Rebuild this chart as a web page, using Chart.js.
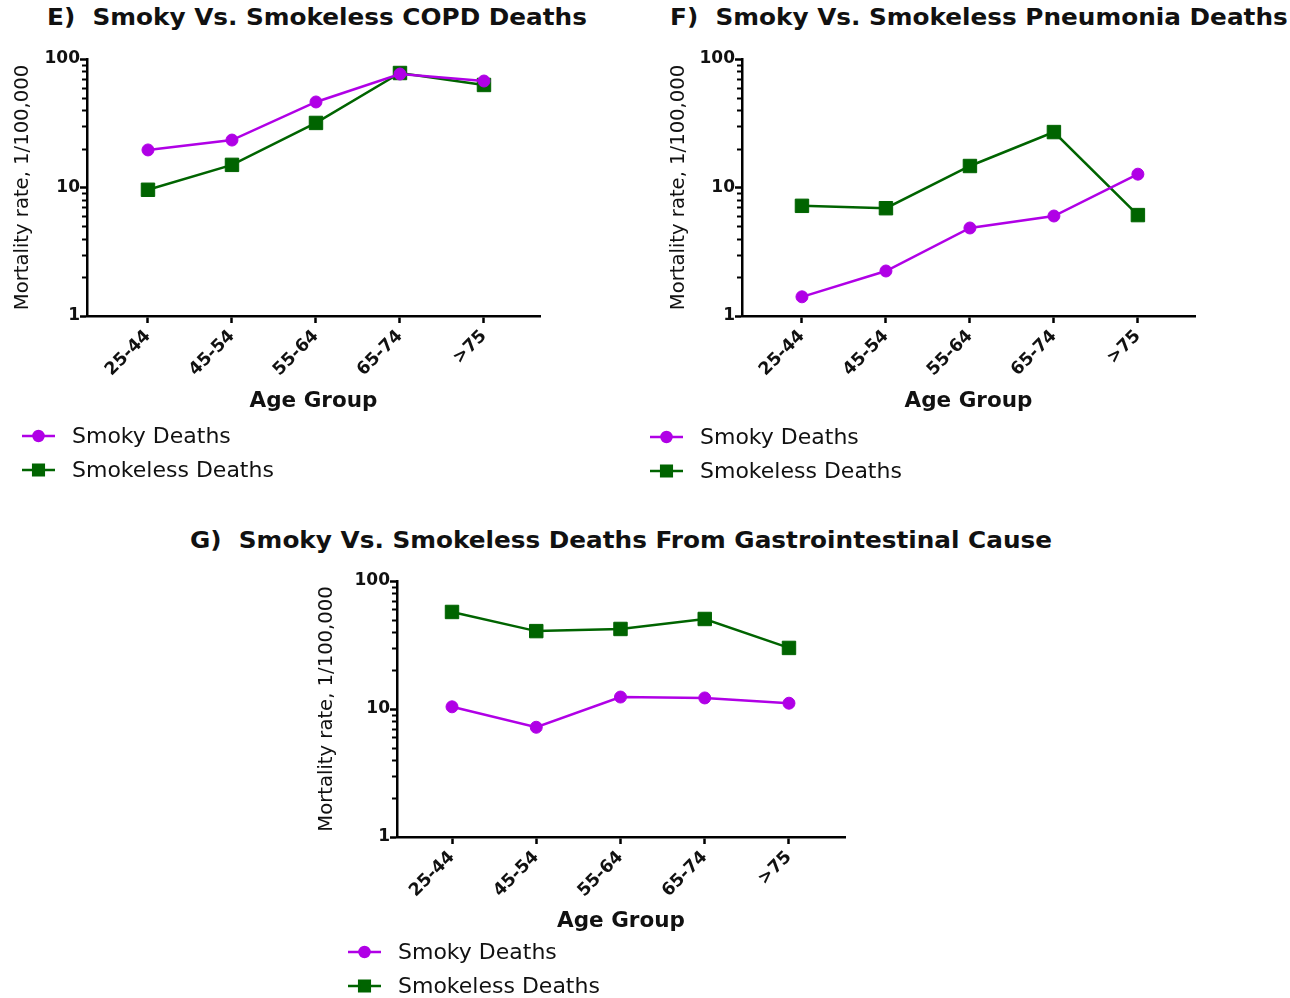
<!DOCTYPE html>
<html>
<head>
<meta charset="utf-8">
<script src="https://cdn.jsdelivr.net/npm/chart.js@4/dist/chart.umd.min.js"></script>
<style>
  body { margin: 0; background: #fff; width: 1290px; height: 998px; position: relative; overflow: hidden; }
  .panel { position: absolute; }
  .ttl { position: absolute; font: bold 23px "DejaVu Sans", sans-serif; color: #111; white-space: pre; line-height: 26px; transform: scaleX(1.075); transform-origin: left center; }
</style>
</head>
<body>
<div class="ttl" style="left:47px; top:4px;">E)  Smoky Vs. Smokeless COPD Deaths</div>
<div class="ttl" style="left:670px; top:4px;">F)  Smoky Vs. Smokeless Pneumonia Deaths</div>
<div class="ttl" style="left:190px; top:527px;">G)  Smoky Vs. Smokeless Deaths From Gastrointestinal Cause</div>

<div class="panel" style="left:0px; top:0px;"><canvas id="chartE"></canvas></div>
<div class="panel" style="left:650px; top:0px;"><canvas id="chartF"></canvas></div>
<div class="panel" style="left:300px; top:520px;"><canvas id="chartG"></canvas></div>

<script>
// age groups on the x axis
const ageGroups = ["25-44", "45-54", "55-64", "65-74", ">75"];
const seriesNames = ["Smoky Deaths", "Smokeless Deaths"];
const yTickValues = [1, 10, 100];
const yMinorTicks = [2, 3, 4, 5, 6, 7, 8, 9, 20, 30, 40, 50, 60, 70, 80, 90];

// mortality rate per 100,000
const copdSmoky = [19.6, 23.4, 46.3, 76.4, 67.4];
const copdSmokeless = [9.6, 15.0, 31.8, 77.8, 62.8];
const pneumoniaSmoky = [1.41, 2.24, 4.84, 6.0, 12.7];
const pneumoniaSmokeless = [7.2, 6.9, 14.7, 27.0, 6.1];
const giSmoky = [10.4, 7.2, 12.4, 12.2, 11.1];
const giSmokeless = [57.3, 40.6, 42.2, 50.5, 30.0];

const purple = "#B000E6";
const green = "#006400";
const FONT = "'DejaVu Sans', sans-serif";

// short minor ticks on the log axis
const minorTicks = {
    id: "minorTicks",
    afterDraw(chart) {
        const ctx = chart.ctx;
        const y = chart.scales.y;
        const left = chart.chartArea.left;
        ctx.save();
        ctx.strokeStyle = "#000";
        ctx.lineWidth = 2;
        yMinorTicks.forEach(v => {
            const py = Math.round(y.getPixelForValue(v)) + 0.5;
            ctx.beginPath();
            ctx.moveTo(left - 5, py);
            ctx.lineTo(left, py);
            ctx.stroke();
        });
        ctx.restore();
    }
};

// legend stacked under the chart, line with marker like the original
const stackedLegend = {
    id: "stackedLegend",
    afterDraw(chart, args, opts) {
        const ctx = chart.ctx;
        ctx.save();
        chart.data.datasets.forEach((ds, i) => {
            const y = opts.y + i * opts.gap;
            ctx.strokeStyle = ds.borderColor;
            ctx.lineWidth = 2.5;
            ctx.beginPath();
            ctx.moveTo(opts.x, y);
            ctx.lineTo(opts.x + 33, y);
            ctx.stroke();
            ctx.fillStyle = ds.backgroundColor;
            Chart.helpers.drawPoint(ctx, {
                pointStyle: ds.pointStyle,
                radius: ds.pointStyle === "rect" ? 7.5 : 5,
                borderWidth: 1,
                rotation: 0
            }, opts.x + 16.5, y);
            ctx.fillStyle = "#111";
            ctx.font = "22px " + FONT;
            ctx.textBaseline = "middle";
            ctx.textAlign = "left";
            ctx.fillText(ds.label, opts.x + 50, y + 1);
        });
        ctx.restore();
    }
};

function makeChart(id, smoky, smokeless, box) {
    const canvas = document.getElementById(id);
    canvas.width = box.w;
    canvas.height = box.h;
    return new Chart(canvas, {
        type: "line",
        data: {
            datasets: [
                {
                    label: seriesNames[0],
                    data: smoky.map((v, i) => ({ x: i + 1, y: v })),
                    borderColor: purple,
                    backgroundColor: purple,
                    borderWidth: 2.5,
                    pointStyle: "circle",
                    pointRadius: 6,
                    pointBorderWidth: 1,
                    tension: 0
                },
                {
                    label: seriesNames[1],
                    data: smokeless.map((v, i) => ({ x: i + 1, y: v })),
                    borderColor: green,
                    backgroundColor: green,
                    borderWidth: 2.5,
                    pointStyle: "rect",
                    pointRadius: 9.5,
                    pointBorderWidth: 1,
                    tension: 0
                }
            ]
        },
        options: {
            responsive: false,
            animation: false,
            layout: { padding: box.pad },
            plugins: {
                legend: { display: false },
                tooltip: { enabled: false },
                stackedLegend: box.legend
            },
            scales: {
                x: {
                    type: "linear",
                    min: box.xMin,
                    max: box.xMax,
                    afterBuildTicks: s => { s.ticks = ageGroups.map((_, i) => ({ value: i + 1 })); },
                    afterFit: s => { s.height = box.xH; },
                    grid: { drawOnChartArea: false, drawTicks: true, tickLength: 7, tickWidth: 2.5, tickColor: "#000" },
                    border: { display: true, color: "#000", width: 2.5 },
                    ticks: {
                        autoSkip: false,
                        minRotation: 45,
                        maxRotation: 45,
                        padding: 3,
                        color: "#111",
                        font: { family: FONT, size: 17.5, weight: "bold" },
                        callback: v => ageGroups[v - 1]
                    },
                    title: {
                        display: true,
                        text: "Age Group",
                        color: "#111",
                        padding: 0,
                        font: { family: FONT, size: 21.5, weight: "bold" }
                    }
                },
                y: {
                    type: "logarithmic",
                    min: 1,
                    max: 100,
                    afterBuildTicks: s => { s.ticks = yTickValues.map(v => ({ value: v })); },
                    afterFit: s => { s.width = box.yW; },
                    grid: { drawOnChartArea: false, drawTicks: true, tickLength: 7, tickWidth: 2.5, tickColor: "#000" },
                    border: { display: true, color: "#000", width: 2.5 },
                    ticks: {
                        padding: 0,
                        color: "#111",
                        font: { family: FONT, size: 17, weight: "bold" },
                        callback: v => String(v)
                    },
                    title: {
                        display: true,
                        text: "Mortality rate, 1/100,000",
                        color: "#111",
                        padding: 0,
                        font: { family: FONT, size: 19.6 }
                    }
                }
            }
        },
        plugins: [minorTicks, stackedLegend]
    });
}

makeChart("chartE", copdSmoky, copdSmokeless, {
    w: 640, h: 500,
    pad: { left: 11.6, top: 59, right: 100, bottom: 86 },
    yW: 75.4, xH: 98,
    xMin: 0.274, xMax: 5.667,
    legend: { x: 22, y: 436, gap: 34 }
});

makeChart("chartF", pneumoniaSmoky, pneumoniaSmokeless, {
    w: 640, h: 500,
    pad: { left: 17.6, top: 59, right: 95, bottom: 86 },
    yW: 74.4, xH: 98,
    xMin: 0.286, xMax: 5.68,
    legend: { x: 0, y: 437, gap: 34 }
});

makeChart("chartG", giSmoky, giSmokeless, {
    w: 600, h: 478,
    pad: { left: 15.6, top: 61, right: 55, bottom: 63.4 },
    yW: 81.4, xH: 97.6,
    xMin: 0.347, xMax: 5.665,
    legend: { x: 48, y: 432, gap: 34 }
});
</script>
</body>
</html>
